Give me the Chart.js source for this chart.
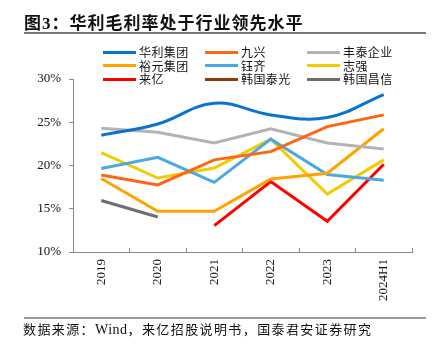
<!DOCTYPE html>
<html>
<head>
<meta charset="utf-8">
<script src="https://cdn.jsdelivr.net/npm/chart.js@4"></script>
<style>
  body { margin: 0; background: #fff; }
  #wrap { position: relative; width: 434px; height: 352px; overflow: hidden; font-family: "Noto Sans CJK SC", sans-serif; }
  #chart { position: absolute; left: 0; top: 0; }
  #title { position: absolute; left: 24px; top: 10px; font-size: 17px; font-weight: 700; color: #111; white-space: nowrap; letter-spacing: 1px; line-height: 24px; }
  #title .num { font-family: "Liberation Serif", serif; }
  .rule { position: absolute; left: 24px; width: 402px; background: #777; }
  #legend { position: absolute; left: 0; top: 0; }
  .item { position: absolute; height: 14px; font-size: 12px; line-height: 14px; color: #111; white-space: nowrap; letter-spacing: 0.4px; }
  .item i { position: absolute; left: 0; top: 5.5px; width: 33px; height: 3px; }
  .item span { position: absolute; left: 36px; top: 0; }
  #foot { position: absolute; left: 23px; top: 320px; font-size: 13px; line-height: 18px; color: #111; white-space: nowrap; letter-spacing: 1.4px; }
  #foot .en { font-family: "Liberation Serif", serif; font-size: 14px; letter-spacing: 0.5px; }
</style>
</head>
<body>
<div id="wrap">
  <canvas id="chart" width="434" height="352"></canvas>
  <div id="title">图<span class="num">3</span>：华利毛利率处于行业领先水平</div>
  <div class="rule" style="top:32px;height:2px;"></div>
  <div id="legend"></div>
  <div class="rule" style="top:317px;height:2px;background:#999;"></div>
  <div id="foot">数据来源：<span class="en">Wind</span>，来亿招股说明书，国泰君安证券研究</div>
</div>
<script>
const $ = id => document.getElementById(id);

// 数据
const years = ['2019', '2020', '2021', '2022', '2023', '2024H1'];
const yTicks = [10, 15, 20, 25, 30];
const huali = [23.5, 24.8, 27.2, 25.85, 25.55, 28.2];
const jiuxing = [18.9, 17.75, 20.65, 21.6, 24.5, 25.85];
const fengtai = [24.3, 23.85, 22.6, 24.25, 22.6, 21.9];
const yuyuan = [18.5, 14.7, 14.7, 18.45, 19.1, 24.25];
const yuqi = [19.65, 20.95, 18.05, 23.05, 18.95, 18.3];
const zhiqiang = [21.5, 18.55, 19.7, 23.05, 16.7, 20.65];
const laiyi = [null, null, 13.05, 18.15, 13.55, 20.15];
const taeguang = [null, null, null, null, null, null];
const changshin = [15.95, 14.05, null, null, null, null];

const series = [
    {label: '华利集团', data: huali, color: '#0A74CC', tension: 0.4},
    {label: '九兴', data: jiuxing, color: '#FF6512'},
    {label: '丰泰企业', data: fengtai, color: '#B3B3B3'},
    {label: '裕元集团', data: yuyuan, color: '#FFA202'},
    {label: '钰齐', data: yuqi, color: '#4AA8E2'},
    {label: '志强', data: zhiqiang, color: '#F2CB05'},
    {label: '来亿', data: laiyi, color: '#FF0000'},
    {label: '韩国泰光', data: taeguang, color: '#8E3B0A'},
    {label: '韩国昌信', data: changshin, color: '#6E6E6E'}
];

// 图例（三列）
const colX = [103, 205, 307];
const rowY = [45, 58.5, 72];
series.forEach((s, i) => {
    const d = document.createElement('div');
    d.className = 'item';
    d.style.left = colX[i % 3] + 'px';
    d.style.top = rowY[Math.floor(i / 3)] + 'px';
    d.innerHTML = `<i style="background:${s.color}"></i><span>${s.label}</span>`;
    $('legend').appendChild(d);
});

const axisColor = '#888';
const tickFont = {family: '"Liberation Serif", serif', size: 13};

new Chart($('chart').getContext('2d'), {
    type: 'line',
    data: {
        labels: years,
        datasets: series.map(s => ({
            label: s.label,
            data: s.data,
            borderColor: s.color,
            backgroundColor: s.color,
            borderWidth: 3,
            pointRadius: 0,
            tension: s.tension || 0,
            fill: false
        }))
    },
    options: {
        responsive: false,
        animation: false,
        layout: {padding: {top: 79, right: 22, bottom: 0, left: 0}},
        plugins: {legend: {display: false}, tooltip: {enabled: false}},
        scales: {
            x: {
                offset: true,
                grid: {offset: true, drawOnChartArea: false, tickLength: -4, color: axisColor},
                border: {color: axisColor, width: 1},
                ticks: {color: '#111', font: tickFont, maxRotation: 90, minRotation: 90, padding: 11},
                afterFit: scale => { scale.height = 100; }
            },
            y: {
                min: 10,
                max: 30,
                afterBuildTicks: scale => { scale.ticks = yTicks.map(v => ({value: v})); },
                grid: {drawOnChartArea: false, tickLength: 4, color: axisColor},
                border: {color: axisColor, width: 1},
                ticks: {color: '#111', font: tickFont, padding: 8, callback: v => v + '%'},
                afterFit: scale => { scale.width = 73; }
            }
        }
    }
});
</script>
</body>
</html>
